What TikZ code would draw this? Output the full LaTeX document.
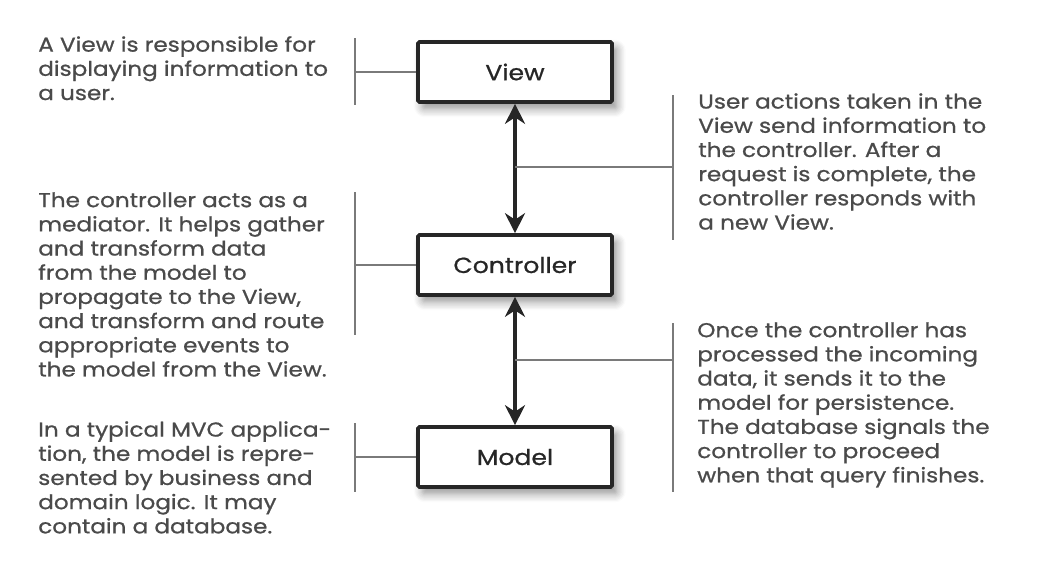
\documentclass[tikz,border=0pt]{standalone}
\usepackage{fontspec}
\setmainfont{Poppins}
\newfontfamily\handfont{Poppins}[FakeStretch=1.15, FakeBold=0.8]
\usetikzlibrary{arrows.meta,shadows.blur}
\definecolor{inkgray}{HTML}{4A4A4A}
\definecolor{bargray}{HTML}{7A7A7A}
\tikzset{
  part/.style={draw=black!85, line width=2.6pt, fill=white, minimum width=4.85cm,
    minimum height=1.5cm, rounded corners=1pt, font=\handfont\fontsize{15.5}{17}\selectfont\color{black!85},
    blur shadow={shadow xshift=1.2mm, shadow yshift=-1.6mm, shadow blur radius=2.2mm,
      shadow blur steps=8, shadow opacity=45}},
  note/.style={align=left, inner sep=0pt, anchor=north west, text=inkgray,
    font=\handfont\fontsize{14.3}{17.2}\selectfont},
  bar/.style={draw=bargray, line width=1.1pt},
  link/.style={line width=2.8pt, black!85, {Stealth[length=5mm,width=5mm]}-{Stealth[length=5mm,width=5mm]}}
}
\begin{document}
\begin{tikzpicture}[x=0.025cm, y=-0.025cm]
\useasboundingbox (0,0) rectangle (1056,572);
\node[part] (view) at (515,72){View};
\node[part] (ctrl) at (515,265){Controller};
\node[part] (model) at (515,457){Model};
\draw[link] (view) -- (ctrl);
\draw[link] (ctrl) -- (model);
\coordinate (vc) at (515,167);
\coordinate (cm) at (515,360);
% left notes
\node[note] (viewnote) at (38,36){A View is responsible for\\displaying information to\\a user.};
\coordinate (b1) at (355,38);
\coordinate (b1e) at (355,105);
\draw[bar] (b1) -- (b1e);
\draw[bar] (355,72) -- (view.west);
\node[note] (ctrlnote) at (38,192){The controller acts as a\\mediator. It helps gather\\and transform data\\from the model to\\propagate to the View,\\and transform and route\\appropriate events to\\the model from the View.};
\coordinate (b2) at (355,192);
\coordinate (b2e) at (355,335);
\draw[bar] (b2) -- (b2e);
\draw[bar] (355,265) -- (ctrl.west);
\node[note] (modelnote) at (38,421){In a typical MVC applica-\\tion, the model is repre-\\sented by business and\\domain logic. It may\\contain a database.};
\coordinate (b3) at (355,423);
\coordinate (b3e) at (355,492);
\draw[bar] (b3) -- (b3e);
\draw[bar] (355,457) -- (model.west);
% right notes
\node[note] (upnote) at (698,93){User actions taken in the\\View send information to\\the controller. After a\\request is complete, the\\controller responds with\\a new View.};
\coordinate (b4) at (673,95);
\coordinate (b4e) at (673,240);
\draw[bar] (b4) -- (b4e);
\draw[bar] (vc) -- (673,167);
\node[note] (downnote) at (697,322){Once the controller has\\processed the incoming\\data, it sends it to the\\model for persistence.\\The database signals the\\controller to proceed\\when that query finishes.};
\coordinate (b5) at (673,323);
\coordinate (b5e) at (673,492);
\draw[bar] (b5) -- (b5e);
\draw[bar] (cm) -- (673,360);
\end{tikzpicture}
\end{document}
